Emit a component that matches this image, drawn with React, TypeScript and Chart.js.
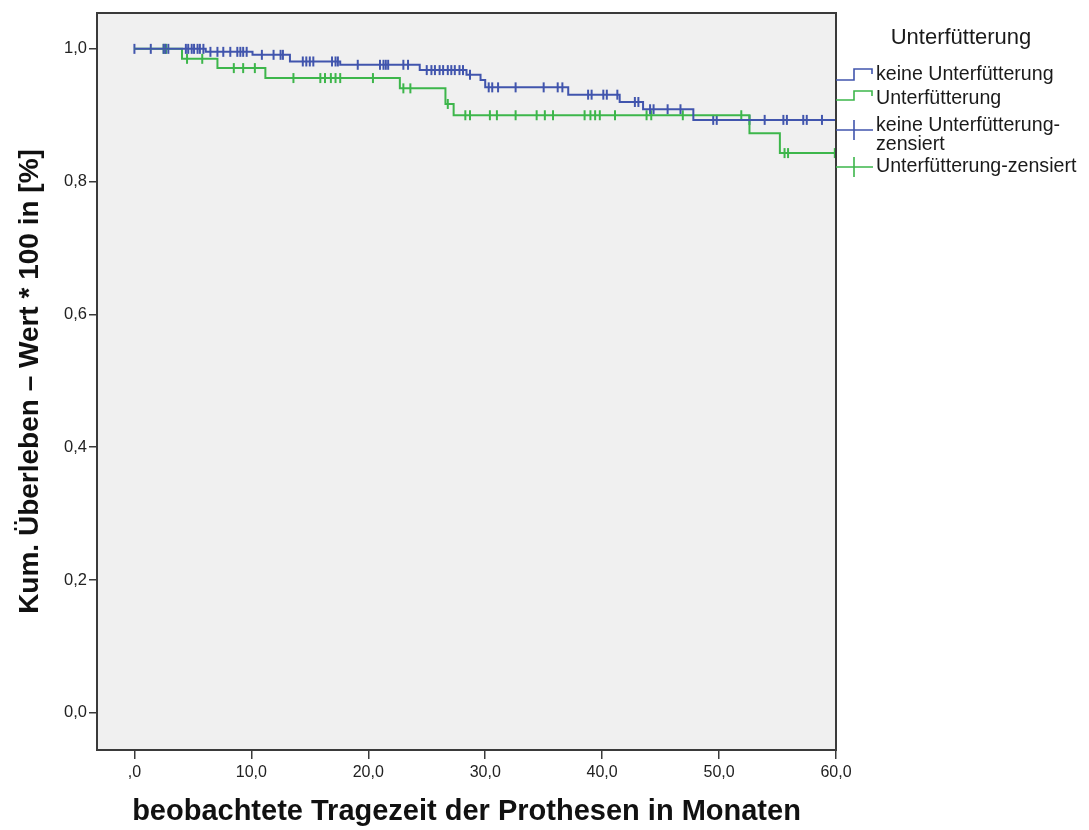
import React, { useEffect, useRef } from "react";
import { Chart, registerables } from "chart.js";

Chart.register(...registerables);

// ---------- data ----------
const xTickValues = [0, 10, 20, 30, 40, 50, 60];
const xTickLabels = [",0", "10,0", "20,0", "30,0", "40,0", "50,0", "60,0"];
const yTickValues = [0, 0.2, 0.4, 0.6, 0.8, 1.0];
const yTickLabels = ["0,0", "0,2", "0,4", "0,6", "0,8", "1,0"];

// Kaplan-Meier step functions (time in months, cumulative survival)
const keineStepTimes = [0, 6.1, 10.1, 13.3, 17.6, 24.4, 28.4, 29.6, 30.0, 37.1, 41.5, 43.5, 47.8];
const keineStepValues = [1.0, 0.9955, 0.991, 0.981, 0.976, 0.968, 0.961, 0.953, 0.942, 0.931, 0.92, 0.909, 0.893];
const keineEndTime = 60;

const unterStepTimes = [0, 4.07, 7.1, 11.2, 22.7, 26.6, 27.3, 52.6, 55.2];
const unterStepValues = [1.0, 0.985, 0.971, 0.956, 0.9405, 0.917, 0.9, 0.873, 0.843];
const unterEndTime = 60;

// censored observation times
const keineCensored = [0, 1.4, 2.5, 2.65, 2.9, 4.4, 4.6, 4.9, 5.1, 5.4, 5.6, 5.9, 6.5, 7.1, 7.6, 8.2, 8.8, 9.06, 9.3, 9.6,
  10.9, 11.9, 12.5, 12.7, 14.4, 14.7, 15.0, 15.3, 16.9, 17.2, 17.4, 19.1, 21.0, 21.3, 21.5, 21.7, 23.0, 23.4,
  25.0, 25.4, 25.7, 26.1, 26.4, 26.8, 27.1, 27.4, 27.8, 28.1, 28.7, 30.3, 30.6, 31.1, 32.6, 35.0, 36.2, 36.6,
  38.8, 39.1, 40.1, 40.4, 41.3, 42.8, 43.1, 44.1, 44.4, 45.6, 46.7, 49.5, 49.8, 52.6, 53.9, 55.5, 55.8, 57.2, 57.5, 58.8];
const unterCensored = [2.5, 2.7, 4.5, 5.8, 8.5, 9.3, 10.3, 13.6, 15.9, 16.3, 16.8, 17.2, 17.6, 20.4, 23.0, 23.6, 26.8,
  28.3, 28.7, 30.4, 31.0, 32.6, 34.4, 35.1, 35.8, 38.5, 39.0, 39.4, 39.8, 41.1, 43.8, 44.2, 46.9, 51.9, 55.6, 55.9, 59.9];

const legendTitle = "Unterfütterung";
const seriesNames = ["keine Unterfütterung", "Unterfütterung"];
const censorNames = [["keine Unterfütterung-", "zensiert"], ["Unterfütterung-zensiert"]];
const xTitle = "beobachtete Tragezeit der Prothesen in Monaten";
const yTitle = "Kum. Überleben – Wert * 100 in [%]";

// ---------- styling ----------
const BLUE = "#4155ad";
const GREEN = "#3db64b";
const FONT = '"Liberation Sans", Arial, sans-serif';

function stepPoints(times: number[], values: number[], end: number) {
  const pts = times.map((t, i) => ({ x: t, y: values[i] }));
  pts.push({ x: end, y: values[values.length - 1] });
  return pts;
}
function survivalAt(times: number[], values: number[], t: number) {
  let v = values[0];
  for (let i = 0; i < times.length; i++) if (times[i] <= t) v = values[i];
  return v;
}
function censorPoints(cens: number[], times: number[], values: number[]) {
  return cens.map((t) => ({ x: t, y: survivalAt(times, values, t) }));
}

const framePlugin = {
  id: "frame",
  beforeDatasetsDraw(chart: any) {
    const { ctx, chartArea: a } = chart;
    ctx.save();
    ctx.fillStyle = "#f0f0f0";
    ctx.fillRect(a.left, a.top, a.right - a.left, a.bottom - a.top);
    ctx.restore();
  },
  afterDatasetsDraw(chart: any) {
    const { ctx, chartArea: a } = chart;
    ctx.save();
    ctx.strokeStyle = "#3a3a3a";
    ctx.lineWidth = 2;
    ctx.strokeRect(a.left, a.top, a.right - a.left, a.bottom - a.top);
    ctx.restore();
  },
};

const legendPlugin = {
  id: "kmLegend",
  afterDraw(chart: any) {
    const ctx = chart.ctx;
    const x0 = chart.chartArea.right;
    ctx.save();
    ctx.fillStyle = "#1a1a1a";
    ctx.textBaseline = "middle";
    ctx.textAlign = "center";
    ctx.font = `22px ${FONT}`;
    ctx.fillText(legendTitle, x0 + 125, 38);

    ctx.lineWidth = 1.6;
    const stepIcon = (color: string, yLow: number, yHigh: number) => {
      ctx.strokeStyle = color;
      ctx.beginPath();
      ctx.moveTo(x0, yLow);
      ctx.lineTo(x0 + 18, yLow);
      ctx.lineTo(x0 + 18, yHigh);
      ctx.lineTo(x0 + 36, yHigh);
      ctx.lineTo(x0 + 36, yHigh + 5);
      ctx.stroke();
    };
    const crossIcon = (color: string, y: number) => {
      ctx.strokeStyle = color;
      ctx.beginPath();
      ctx.moveTo(x0, y);
      ctx.lineTo(x0 + 37, y);
      ctx.moveTo(x0 + 18, y - 10);
      ctx.lineTo(x0 + 18, y + 10);
      ctx.stroke();
    };
    stepIcon(BLUE, 80, 69);
    stepIcon(GREEN, 100, 91);
    crossIcon(BLUE, 130);
    crossIcon(GREEN, 167);

    ctx.textAlign = "left";
    ctx.font = `19.6px ${FONT}`;
    ctx.fillText(seriesNames[0], x0 + 40, 75);
    ctx.fillText(seriesNames[1], x0 + 40, 99);
    ctx.fillText(censorNames[0][0], x0 + 40, 126);
    ctx.fillText(censorNames[0][1], x0 + 40, 145);
    ctx.fillText(censorNames[1][0], x0 + 40, 167);
    ctx.restore();
  },
};

export default function App() {
  const ref = useRef<HTMLCanvasElement>(null);
  useEffect(() => {
    if (!ref.current) return;
    const chart = new Chart(ref.current, {
      type: "line",
      data: {
        datasets: [
          {
            label: seriesNames[0],
            data: stepPoints(keineStepTimes, keineStepValues, keineEndTime),
            borderColor: BLUE,
            borderWidth: 2,
            stepped: "before",
            pointRadius: 0,
            fill: false,
          },
          {
            label: seriesNames[1],
            data: stepPoints(unterStepTimes, unterStepValues, unterEndTime),
            borderColor: GREEN,
            borderWidth: 2,
            stepped: "before",
            pointRadius: 0,
            fill: false,
          },
          {
            label: censorNames[0].join(""),
            data: censorPoints(keineCensored, keineStepTimes, keineStepValues),
            showLine: false,
            borderColor: BLUE,
            backgroundColor: BLUE,
            pointStyle: "line",
            rotation: 90,
            pointRadius: 5,
            pointBorderWidth: 2,
          } as any,
          {
            label: censorNames[1][0],
            data: censorPoints(unterCensored, unterStepTimes, unterStepValues),
            showLine: false,
            borderColor: GREEN,
            backgroundColor: GREEN,
            pointStyle: "line",
            rotation: 90,
            pointRadius: 5,
            pointBorderWidth: 2,
          } as any,
        ],
      },
      options: {
        responsive: false,
        animation: false,
        devicePixelRatio: 1,
        layout: { padding: { left: 0, top: 13, right: 253, bottom: 0 } },
        plugins: { legend: { display: false }, tooltip: { enabled: false } },
        scales: {
          x: {
            type: "linear",
            min: -3.2,
            max: 60,
            afterFit: (s: any) => { s.height = 80; },
            afterBuildTicks: (s: any) => { s.ticks = xTickValues.map((v) => ({ value: v })); },
            ticks: {
              autoSkip: false,
              maxRotation: 0,
              color: "#222",
              padding: 4,
              font: { family: FONT, size: 16 },
              callback: (v: any) => xTickLabels[xTickValues.indexOf(Number(v))] ?? "",
            },
            grid: { display: true, drawOnChartArea: false, drawTicks: true, tickLength: 9, color: "#3a3a3a", lineWidth: 1.5 },
            border: { display: false },
            title: {
              display: true,
              text: xTitle,
              color: "#111",
              font: { family: FONT, size: 29, weight: "bold" },
              padding: { top: 0, bottom: 1 },
            },
          },
          y: {
            type: "linear",
            min: -0.056,
            max: 1.054,
            afterFit: (s: any) => { s.width = 97; },
            afterBuildTicks: (s: any) => { s.ticks = yTickValues.map((v) => ({ value: v })); },
            ticks: {
              autoSkip: false,
              color: "#222",
              padding: 2,
              font: { family: FONT, size: 16.5 },
              callback: (v: any) => {
                const i = yTickValues.findIndex((t) => Math.abs(t - Number(v)) < 1e-6);
                return i >= 0 ? yTickLabels[i] : "";
              },
            },
            grid: { display: true, drawOnChartArea: false, drawTicks: true, tickLength: 8, color: "#3a3a3a", lineWidth: 1.5 },
            border: { display: false },
            title: {
              display: true,
              text: yTitle,
              color: "#111",
              font: { family: FONT, size: 28, weight: "bold" },
              padding: { top: 13, bottom: 0 },
            },
          },
        },
      },
      plugins: [framePlugin, legendPlugin],
    });
    return () => chart.destroy();
  }, []);
  return (
    <div style={{ position: "fixed", left: 0, top: 0, width: 1089, height: 830, background: "#fff" }}>
      <canvas ref={ref} width={1089} height={830} style={{ display: "block" }} />
    </div>
  );
}
